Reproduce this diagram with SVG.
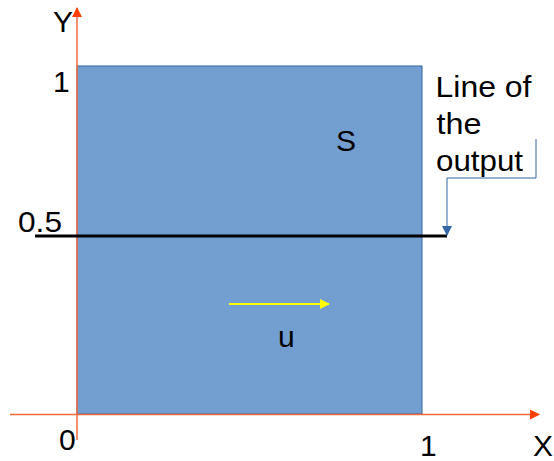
<svg xmlns="http://www.w3.org/2000/svg" width="554" height="461" viewBox="0 0 554 461">
<style>
text{font-family:"Liberation Sans",Arial,sans-serif;font-size:30px;fill:#000}
.ax{stroke:#f4693a;stroke-width:1.5;fill:none}
</style>
<defs>
<marker id="ao" markerWidth="10" markerHeight="10" refX="9" refY="5" orient="auto" markerUnits="userSpaceOnUse"><path d="M0,0 L10,5 L0,10 Z" fill="#ff4000"/></marker>
<marker id="ay" markerWidth="10" markerHeight="10" refX="9" refY="5" orient="auto" markerUnits="userSpaceOnUse"><path d="M0,0 L10,5 L0,10 Z" fill="#ffff00"/></marker>
<marker id="ab" markerWidth="10" markerHeight="10" refX="9" refY="5" orient="auto" markerUnits="userSpaceOnUse"><path d="M0,0 L10,5 L0,10 Z" fill="#3465a4"/></marker>
</defs>
<g id="region"><rect x="77" y="66" width="345" height="348" fill="#729fcf" stroke="#3465a4" stroke-width="1"/></g>
<g id="connectors">
<line class="ax" x1="77" y1="440" x2="77" y2="8" marker-end="url(#ao)"/>
<line class="ax" x1="10" y1="414.5" x2="539" y2="414.5" marker-end="url(#ao)"/>
<line x1="35" y1="236" x2="447" y2="236" stroke="#000" stroke-width="3"/>
<path d="M536,139 V178 H447 V235" fill="none" stroke="#3465a4" stroke-width="1" marker-end="url(#ab)"/>
<line x1="229" y1="304" x2="329" y2="304" stroke="#ffff00" stroke-width="2" marker-end="url(#ay)"/>
</g>
<g id="labels">
<text x="53" y="32">Y</text>
<text x="53" y="92">1</text>
<text x="18" y="232" textLength="44" lengthAdjust="spacingAndGlyphs">0.5</text>
<text x="336" y="151">S</text>
<text x="278" y="347">u</text>
<text x="59" y="450">0</text>
<text x="420" y="456">1</text>
<text x="533" y="456">X</text>
<text x="435.5" y="97" textLength="96" lengthAdjust="spacingAndGlyphs">Line of</text>
<text x="436.5" y="134" textLength="45" lengthAdjust="spacingAndGlyphs">the</text>
<text x="436" y="171" textLength="87" lengthAdjust="spacingAndGlyphs">output</text>
</g>
</svg>
